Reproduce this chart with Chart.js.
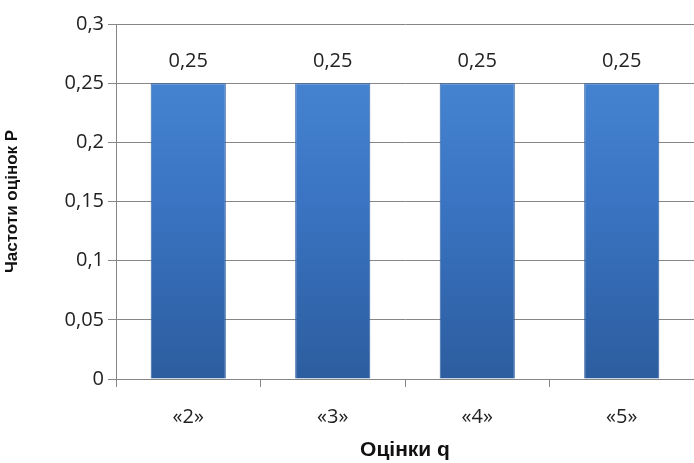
<!DOCTYPE html>
<html>
<head>
<meta charset="utf-8">
<script src="https://cdn.jsdelivr.net/npm/chart.js@4"></script>
<style>
  html, body { margin: 0; padding: 0; background: #fff; }
  #wrap { width: 694px; height: 463px; position: relative; }
</style>
</head>
<body>
<div id="wrap"><canvas id="chart"></canvas></div>
<script>
// Chart data
const grades = ['«2»', '«3»', '«4»', '«5»'];
const frequencies = [0.25, 0.25, 0.25, 0.25];
const yTicks = [0, 0.05, 0.1, 0.15, 0.2, 0.25, 0.3];

const tickFont = { family: "'Open Sans', 'Noto Sans', sans-serif", size: 20 };
const comma = v => String(v).replace('.', ',');

// Excel-style gradient for the bars
function barFill(ctx) {
  const area = ctx.chart.chartArea;
  if (!area) return '#3b73bf';
  const g = ctx.chart.ctx.createLinearGradient(0, area.top, 0, area.bottom);
  g.addColorStop(0, '#4a8ad8');
  g.addColorStop(0.5, '#3a74c2');
  g.addColorStop(1, '#2c5d9f');
  return g;
}

// Value labels above bars
const valueLabels = {
  id: 'valueLabels',
  afterDatasetsDraw(chart) {
    const c = chart.ctx;
    const meta = chart.getDatasetMeta(0);
    c.save();
    c.font = `${tickFont.size}px ${tickFont.family}`;
    c.fillStyle = '#222';
    c.textAlign = 'center';
    c.textBaseline = 'middle';
    meta.data.forEach((bar, i) => {
      c.fillText(comma(frequencies[i]), bar.x, bar.y - 22);
    });
    c.restore();
  }
};

new Chart(document.getElementById('chart'), {
  type: 'bar',
  data: {
    labels: grades,
    datasets: [{
      data: frequencies,
      backgroundColor: barFill,
      borderColor: '#2f609f',
      borderWidth: 1,
      categoryPercentage: 1,
      barPercentage: 0.52
    }]
  },
  options: {
    responsive: true,
    maintainAspectRatio: false,
    animation: false,
    layout: { padding: { top: 24, right: 0, left: 0, bottom: 0 } },
    plugins: {
      legend: { display: false },
      tooltip: { enabled: false }
    },
    scales: {
      x: {
        grid: { offset: true, drawOnChartArea: false, color: '#868686', tickLength: 8 },
        border: { color: '#868686' },
        ticks: { color: '#222', font: tickFont, padding: 18 },
        title: {
          display: true, text: 'Оцінки q', color: '#111',
          font: { family: "'Liberation Sans', Arial, sans-serif", size: 21, weight: 'bold' },
          padding: { top: 0, bottom: 0 }
        },
        afterFit(s) { s.height = 84; }
      },
      y: {
        min: 0,
        max: 0.3,
        afterBuildTicks(s) { s.ticks = yTicks.map(v => ({ value: v })); },
        grid: { color: '#868686', tickLength: 8 },
        border: { color: '#868686' },
        ticks: { color: '#222', font: tickFont, padding: 4, callback: v => comma(v) },
        title: {
          display: true, text: 'Частоти оцінок Р', color: '#111',
          font: { family: "'Liberation Sans', Arial, sans-serif", size: 17, weight: 'bold' },
          padding: { top: 2, bottom: 6 }
        },
        afterFit(s) { s.width = 116; }
      }
    }
  },
  plugins: [valueLabels]
});
</script>
</body>
</html>
